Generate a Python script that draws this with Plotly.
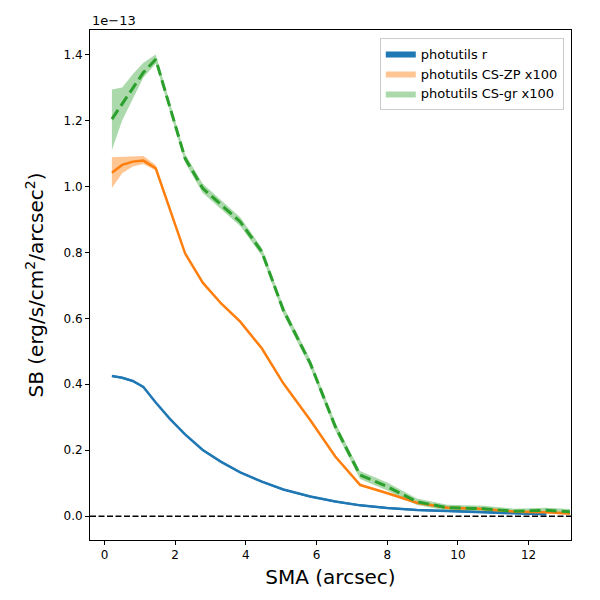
import plotly.graph_objects as go

# SMA grid (arcsec)
sma = [0.21, 0.5, 0.8, 1.1, 1.45, 1.85, 2.28, 2.78, 3.3, 3.84, 4.45, 5.06, 5.82,
       6.53, 7.23, 8.0, 8.84, 9.7, 10.72, 11.6, 12.5, 13.17]

# surface brightness in units of 1e-13 erg/s/cm2/arcsec2
sb_r = [0.425, 0.42, 0.41, 0.392, 0.345, 0.295, 0.248, 0.201, 0.165, 0.133, 0.105,
        0.081, 0.060, 0.045, 0.033, 0.025, 0.019, 0.015, 0.012, 0.009, 0.006]
sb_r_err = [0.003] * len(sb_r)

sb_zp = [1.041, 1.065, 1.075, 1.078, 1.055, 0.93, 0.797, 0.708, 0.645, 0.59, 0.509,
         0.403, 0.292, 0.181, 0.095, 0.07, 0.041, 0.026, 0.022, 0.014, 0.012, 0.008]
sb_zp_lo = [0.995, 1.04, 1.06, 1.068, 1.048, 0.925, 0.793, 0.704, 0.641, 0.586, 0.505,
            0.399, 0.288, 0.177, 0.091, 0.066, 0.037, 0.022, 0.018, 0.010, 0.008, 0.004]
sb_zp_hi = [1.088, 1.09, 1.092, 1.092, 1.065, 0.935, 0.801, 0.712, 0.649, 0.594, 0.513,
            0.407, 0.296, 0.185, 0.099, 0.074, 0.045, 0.030, 0.026, 0.018, 0.016, 0.012]

sb_gr = [1.204, 1.25, 1.30, 1.345, 1.385, 1.24, 1.085, 0.994, 0.945, 0.893, 0.802,
         0.625, 0.464, 0.272, 0.125, 0.09, 0.044, 0.026, 0.023, 0.015, 0.018, 0.014]
sb_gr_lo = [1.11, 1.20, 1.265, 1.33, 1.372, 1.228, 1.072, 0.98, 0.932, 0.88, 0.79,
            0.613, 0.452, 0.26, 0.113, 0.078, 0.034, 0.017, 0.014, 0.007, 0.010, 0.006]
sb_gr_hi = [1.294, 1.30, 1.34, 1.375, 1.40, 1.252, 1.098, 1.008, 0.958, 0.906, 0.814,
            0.637, 0.476, 0.284, 0.137, 0.102, 0.054, 0.035, 0.032, 0.023, 0.026, 0.022]

labels = ["photutils r", "photutils CS-ZP x100", "photutils CS-gr x100"]
C_BLUE, C_ORANGE, C_GREEN = "#1f77b4", "#ff7f0e", "#2ca02c"

fig = go.Figure()

def band(x, lo, hi, color, name):
    fig.add_trace(go.Scatter(
        x=list(x) + list(x)[::-1], y=list(hi) + list(lo)[::-1],
        fill="toself", fillcolor=color, line=dict(width=0, color=color),
        mode="lines", name=name, showlegend=True, hoverinfo="skip"))

x_r = sma[:len(sb_r)]
band(x_r, [v - e for v, e in zip(sb_r, sb_r_err)], [v + e for v, e in zip(sb_r, sb_r_err)],
     C_BLUE, labels[0])
band(sma, sb_zp_lo, sb_zp_hi, "rgba(255,127,14,0.45)", labels[1])
band(sma, sb_gr_lo, sb_gr_hi, "rgba(44,160,44,0.4)", labels[2])

fig.add_trace(go.Scatter(x=x_r, y=sb_r, mode="lines", line=dict(color=C_BLUE, width=2.5),
                         showlegend=False))
fig.add_trace(go.Scatter(x=sma, y=sb_zp, mode="lines", line=dict(color=C_ORANGE, width=2.5),
                         showlegend=False))
fig.add_trace(go.Scatter(x=sma, y=sb_gr, mode="lines",
                         line=dict(color=C_GREEN, width=3, dash="11px,5px"), showlegend=False))

fig.add_shape(type="line", xref="paper", yref="y", x0=0, x1=1, y0=0, y1=0,
              line=dict(color="black", width=1.5, dash="6px,2.5px"))

axis_common = dict(showline=True, linecolor="black", linewidth=1, mirror=True,
                   ticks="outside", ticklen=4, tickcolor="black", showgrid=False,
                   zeroline=False, automargin=False,
                   tickfont=dict(size=12, color="black"))

# page body has an 8px offset in the browser; margins compensate for it
fig.update_layout(
    width=600, height=600,
    margin=dict(l=82, r=37, t=22, b=68),
    plot_bgcolor="white", paper_bgcolor="white",
    font=dict(family="DejaVu Sans", color="black"),
    xaxis=dict(range=[-0.41, 13.2], tickvals=[0, 2, 4, 6, 8, 10, 12],
               title=dict(text="SMA (arcsec)", font=dict(size=20), standoff=8),
               **axis_common),
    yaxis=dict(range=[-0.072, 1.474], tickvals=[0, 0.2, 0.4, 0.6, 0.8, 1.0, 1.2, 1.4],
               tickformat=".1f",
               title=dict(text="SB (erg/s/cm<sup>2</sup>/arcsec<sup>2</sup>)",
                          font=dict(size=20), standoff=14),
               **axis_common),
    legend=dict(x=0.985, y=0.985, xanchor="right", yanchor="top",
                bgcolor="rgba(255,255,255,0.8)", bordercolor="#cccccc", borderwidth=1,
                font=dict(size=13), tracegroupgap=0, itemwidth=30),
    annotations=[dict(text="1e\u221213", xref="paper", yref="paper", x=0, y=1,
                      xanchor="left", yanchor="bottom", showarrow=False,
                      font=dict(size=13))],
)

fig.write_html("out.html")
